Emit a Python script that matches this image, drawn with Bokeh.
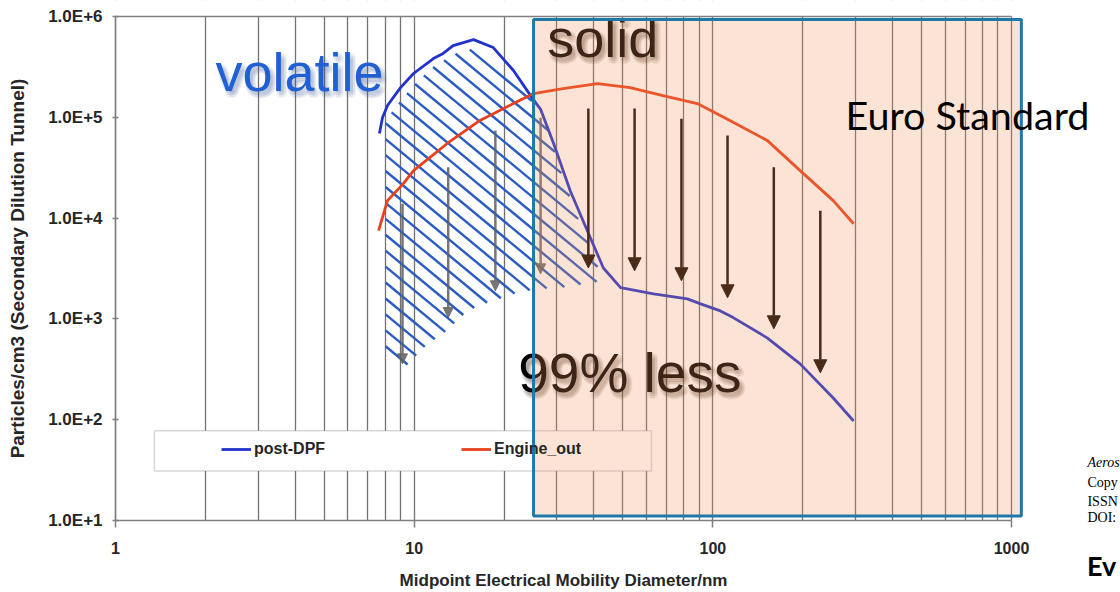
import math
from bokeh.plotting import figure
from bokeh.models import (Range1d, FixedTicker, NumeralTickFormatter, CustomJSTickFormatter,
                          BoxAnnotation, Label, Arrow, NormalHead, ColumnDataSource,
                          Legend, LegendItem, LogAxis)
from bokeh.embed import file_html
from bokeh.resources import INLINE

# ---------------- data ----------------
dpf_x = [7.65, 7.83, 8.14, 9.0, 9.95, 11.6, 12.5, 13.5, 15.8, 18.4, 21.5, 24.5, 26.5,
         29.3, 33.3, 38.0, 43.0, 49.1, 63.3, 82.2, 91, 106, 117, 152, 196, 253, 296]
dpf_y = [6.9e4, 9.9e4, 1.31e5, 1.97e5, 2.72e5, 3.83e5, 4.3e5, 5.15e5, 5.9e5, 4.92e5,
         2.91e5, 1.65e5, 1.2e5, 5.5e4, 1.87e4, 7.5e3, 3.2e3, 2.04e3, 1.77e3, 1.58e3,
         1.41e3, 1.2e3, 1.03e3, 649, 358, 164, 97]

eng_x = [7.6, 8.14, 9.2, 9.95, 12.9, 16.6, 21.5, 25.1, 31.5, 41.1, 52.8, 68.1, 88.7,
         114, 152, 196, 253, 296]
eng_y = [7.5e3, 1.49e4, 2.2e4, 2.96e4, 5.5e4, 9.3e4, 1.37e5, 1.72e5, 1.93e5, 2.16e5,
         1.97e5, 1.64e5, 1.37e5, 9.3e4, 5.9e4, 2.96e4, 1.49e4, 8.8e3]

# hatched "volatile" region outline
hatch_x = [8.02, 9.0, 10.3, 11.6, 13.5, 15.8, 18.4, 21.5, 24.5, 27.5, 30.9, 36.1, 43.0,
           30.9, 25.9, 22.2, 17.1, 15.1, 12.5, 11.1, 9.2, 8.02]
hatch_y = [9.3e4, 1.47e5, 2.31e5, 3.18e5, 4.2e5, 4.81e5, 4.1e5, 2.48e5, 1.53e5, 9.3e4,
           2.96e4, 8.4e3, 2.39e3, 2.04e3, 1.99e3, 1.82e3, 1.41e3, 1.2e3, 711, 566,
           319, 460]

# reduction arrows
vol_arrow_x = [9.14, 13.0, 18.7, 26.5]
vol_arrow_top = [1.39e4, 3.2e4, 7.4e4, 9.9e4]
vol_arrow_bottom = [358, 1.03e3, 1.9e3, 2.8e3]

sol_arrow_x = [38.3, 54.7, 78.5, 112, 160, 229]
sol_arrow_top = [1.22e5, 1.22e5, 9.7e4, 6.6e4, 3.2e4, 1.18e4]
sol_arrow_bottom = [3.2e3, 3.0e3, 2.39e3, 1.62e3, 798, 292]

x_ticks = [1, 10, 100, 1000]
x_minor = [2, 3, 4, 5, 6, 7, 8, 9, 20, 30, 40, 50, 60, 70, 80, 90,
           200, 300, 400, 500, 600, 700, 800, 900]
y_ticks = [1e1, 1e2, 1e3, 1e4, 1e5, 1e6]

series_names = ["post-DPF", "Engine_out"]

FONT = "Liberation Sans"
TXT = "#262626"
AXC = "#7f7f7f"

# hatch line family (in log-log data space): log(y) = c - HATCH_SLOPE * log(x)
HATCH_SLOPE = 2.45
HATCH_STEP = 0.158


def hatch_segments(xs, ys, slope, step):
    lx = [math.log10(v) for v in xs]
    ly = [math.log10(v) for v in ys]
    n = len(lx)
    cs = [ly[i] + slope * lx[i] for i in range(n)]
    c = min(cs) + step * 0.5
    out = ([], [], [], [])
    while c < max(cs):
        hits = []
        for i in range(n):
            j = (i + 1) % n
            f1 = cs[i] - c
            f2 = cs[j] - c
            if (f1 > 0) != (f2 > 0):
                t = f1 / (f1 - f2)
                hits.append(lx[i] + t * (lx[j] - lx[i]))
        hits.sort()
        for k in range(0, len(hits) - 1, 2):
            a, b = hits[k], hits[k + 1]
            out[0].append(10 ** a)
            out[1].append(10 ** (c - slope * a))
            out[2].append(10 ** b)
            out[3].append(10 ** (c - slope * b))
        c += step
    return out


# The frame covers the whole canvas; the axes sit at fixed data locations so that
# nothing drawn outside the original plot area gets clipped.
p = figure(width=1120, height=592, x_axis_type="log", y_axis_type="log",
           x_range=Range1d(0.412, 2317), y_range=Range1d(1.931, 1.4412e6),
           x_axis_location=None, y_axis_location=None, title=None,
           output_backend="svg", toolbar_location=None,
           min_border_left=0, min_border_right=0, min_border_top=0,
           min_border_bottom=0, background_fill_color="white",
           border_fill_color="white", outline_line_color=None)

xt = FixedTicker(ticks=x_ticks, minor_ticks=x_minor)
yt = FixedTicker(ticks=y_ticks, minor_ticks=[])


def style_axis(ax):
    ax.axis_line_color = AXC
    ax.axis_line_width = 1.5
    ax.major_tick_line_color = AXC
    ax.major_tick_line_width = 1.5
    ax.minor_tick_line_color = None
    ax.major_label_text_font = FONT
    ax.major_label_text_font_style = "bold"
    ax.major_label_text_font_size = "17px"
    ax.major_label_text_color = TXT
    ax.axis_label_text_font = FONT
    ax.axis_label_text_font_style = "bold"
    ax.axis_label_text_color = TXT


xaxis = LogAxis(ticker=xt, formatter=NumeralTickFormatter(format="0"),
                fixed_location=10, bounds=(1, 1000),
                axis_label="Midpoint Electrical Mobility Diameter/nm")
style_axis(xaxis)
xaxis.major_label_text_font_size = "16px"
xaxis.major_tick_in = 0
xaxis.major_tick_out = 7
xaxis.major_label_standoff = 14
xaxis.axis_label_text_font_size = "17px"
xaxis.axis_label_standoff = 14
p.add_layout(xaxis, "below")

topaxis = LogAxis(ticker=FixedTicker(ticks=[], minor_ticks=[]), fixed_location=1e6,
                  bounds=(1, 1000), major_tick_line_color=None,
                  minor_tick_line_color=None, axis_line_color=AXC, axis_line_width=1.5)
p.add_layout(topaxis, "above")

yaxis = LogAxis(ticker=yt,
                formatter=CustomJSTickFormatter(code="return tick.toExponential(1).toUpperCase();"),
                fixed_location=1, bounds=(10, 1e6),
                axis_label="Particles/cm3 (Secondary Dilution Tunnel)")
style_axis(yaxis)
yaxis.major_tick_in = 3
yaxis.major_tick_out = 3
yaxis.major_label_standoff = 10
yaxis.axis_label_text_font_size = "19px"
yaxis.axis_label_standoff = 17
p.add_layout(yaxis, "left")

p.xgrid.ticker = xt
p.xgrid.grid_line_color = "#727272"
p.xgrid.grid_line_width = 1.3
p.xgrid.minor_grid_line_color = "#727272"
p.xgrid.minor_grid_line_width = 1.3
p.ygrid.grid_line_color = None

# keep the grid inside the plot area (hide it below the x axis and above the top border)
p.add_layout(BoxAnnotation(top=10, bottom=0.01, left=0.01, right=1e5,
                           fill_color="white", fill_alpha=1.0,
                           line_color=None, level="underlay"))
p.add_layout(BoxAnnotation(bottom=1e6, top=1e9, left=0.01, right=1e5,
                           fill_color="white", fill_alpha=1.0,
                           line_color=None, level="underlay"))

# hatched region
hx0, hy0, hx1, hy1 = hatch_segments(hatch_x, hatch_y, HATCH_SLOPE, HATCH_STEP)
p.segment(hx0, hy0, hx1, hy1, line_color="#2a5cc4", line_width=2.4)

# curves
r_dpf = p.line(dpf_x, dpf_y, line_color="#2233cc", line_width=2.8)
r_eng = p.line(eng_x, eng_y, line_color="#e8401c", line_width=2.8)

# legend frame
p.add_layout(BoxAnnotation(left=1.35, right=62.3, bottom=31.0, top=77.5,
                           fill_color="white", fill_alpha=1.0,
                           line_color="#7f7f7f", line_width=1.5))

# arrows
vol_src = ColumnDataSource(dict(x=vol_arrow_x, top=vol_arrow_top, bottom=vol_arrow_bottom))
p.add_layout(Arrow(source=vol_src, x_start="x", y_start="top", x_end="x", y_end="bottom",
                   line_color="#5f5f5f", line_width=2.5, line_alpha=0.85,
                   end=NormalHead(size=10, fill_color="#5f5f5f", line_color="#5f5f5f",
                                  fill_alpha=0.85, line_alpha=0.85)))
sol_src = ColumnDataSource(dict(x=sol_arrow_x, top=sol_arrow_top, bottom=sol_arrow_bottom))
p.add_layout(Arrow(source=sol_src, x_start="x", y_start="top", x_end="x", y_end="bottom",
                   line_color="#120803", line_width=2.5,
                   end=NormalHead(size=13, fill_color="#120803", line_color="#120803")))


def shadow_label(text, x, y, size, color, shadow, font=FONT):
    offs = [(0, 0), (3, 0), (-3, 0), (0, 3), (0, -3), (2, 2), (-2, -2), (2, -2), (-2, 2)]
    for dx, dy in offs:
        p.add_layout(Label(x=x, y=y, x_offset=3 + dx, y_offset=-4 + dy, text=text,
                           text_font=font, text_font_size=size, text_color=shadow,
                           text_alpha=0.07, text_baseline="alphabetic"))
    p.add_layout(Label(x=x, y=y, text=text, text_font=font, text_font_size=size,
                       text_color=color, text_baseline="alphabetic"))


shadow_label("solid", 27.9, 6.05e5, "54px", "#000000", "#3a2010")
shadow_label("99% less", 22.3, 291, "55px", "#000000", "#3a2010")

# legend
legend = Legend(items=[LegendItem(label=series_names[0], renderers=[r_dpf]),
                       LegendItem(label=series_names[1], renderers=[r_eng])],
                location=(221, 133), orientation="horizontal", padding=0, margin=0,
                spacing=7, glyph_width=30, glyph_height=20, label_width=200,
                label_standoff=3, border_line_color=None, background_fill_alpha=0,
                label_text_font=FONT, label_text_font_style="bold",
                label_text_font_size="16px", label_text_color=TXT)
p.add_layout(legend, "center")

# "solid" overlay box
p.add_layout(BoxAnnotation(left=25.1, right=1079, bottom=11.1, top=9.33e5,
                           fill_color="#ef9357", fill_alpha=0.25,
                           line_color="#1f78a8", line_width=3, line_alpha=1.0))

shadow_label("volatile", 2.16, 2.84e5, "54px", "#2060d4", "#4060a0")

p.add_layout(Label(x=278, y=1.064e5, text="Euro Standard", text_font="Lato",
                   text_font_size="39.5px", text_color="black", text_baseline="alphabetic"))

# cut-off text at right edge
side = [("Aeros", 37.2, "italic"), ("Copy", 23.6, "normal"), ("ISSN", 15.5, "normal"),
        ("DOI:", 10.7, "normal")]
for t, yy, st in side:
    p.add_layout(Label(x=1796, y=yy, text=t, text_font="Liberation Serif",
                       text_font_size="14px", text_font_style=st, text_color="black",
                       text_baseline="alphabetic"))
p.add_layout(Label(x=1790, y=3.55, text="Ev", text_font="Lato", text_font_style="bold",
                   text_font_size="27px", text_color="black", text_baseline="alphabetic"))

open("out.html", "w").write(file_html(p, INLINE))
